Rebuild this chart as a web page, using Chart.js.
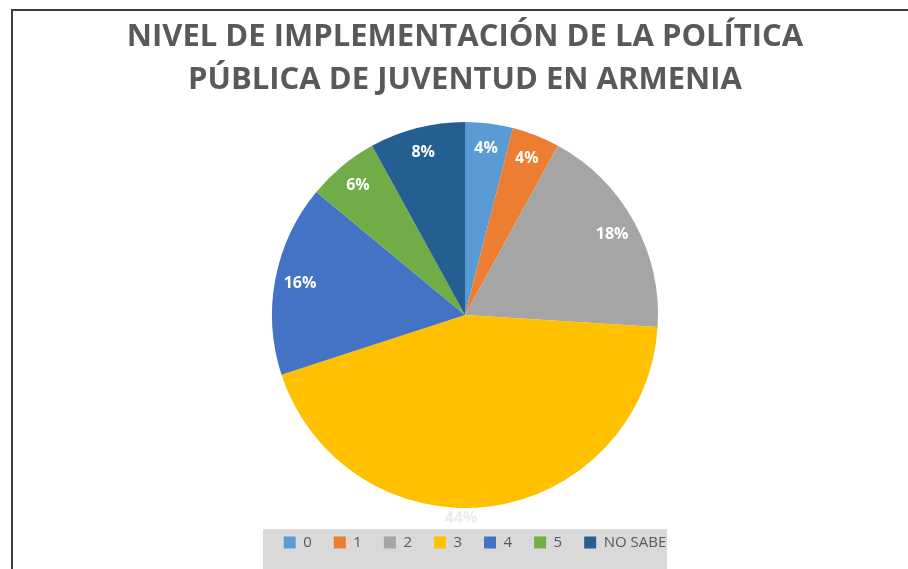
<!DOCTYPE html>
<html>
<head>
<meta charset="utf-8">
<script src="https://cdn.jsdelivr.net/npm/chart.js@4.4.1/dist/chart.umd.min.js"></script>
<style>
    html, body { margin: 0; padding: 0; background: #fff; }
    #wrap { position: relative; width: 908px; height: 569px; overflow: hidden; }
    #frame {
        position: absolute; left: 11px; top: 9px; width: 900px; height: 570px;
        border-top: 2px solid #3c3c3c; border-left: 2px solid #3c3c3c;
        pointer-events: none;
    }
</style>
</head>
<body>
<div id="wrap">
    <canvas id="pieChart" width="908" height="569"></canvas>
    <div id="frame"></div>
</div>
<script>
    // Survey answers: implementation level 0-5 plus "don't know"
    const categories = ['0', '1', '2', '3', '4', '5', 'NO SABE'];
    const percentages = [4, 4, 18, 44, 16, 6, 8];
    const sliceColors = ['#5B9BD5', '#ED7D31', '#A5A5A5', '#FFC000', '#4472C4', '#70AD47', '#255E91'];
    const titleLines = ['NIVEL DE IMPLEMENTACIÓN DE LA POLÍTICA', 'PÚBLICA DE JUVENTUD EN ARMENIA'];

    // grey strip behind the legend; legend items sit a bit right of the pie axis
    const legendBackdrop = {
        id: 'legendBackdrop',
        afterLayout(chart) {
            chart.legend.left += 10;
            chart.legend.right += 10;
        },
        beforeDraw(chart) {
            const ctx = chart.ctx;
            ctx.save();
            ctx.fillStyle = '#d9d9d9';
            ctx.fillRect(263, 529, 404, 45);
            ctx.restore();
        }
    };

    // percentage labels on each slice
    const sliceLabels = {
        id: 'sliceLabels',
        afterDatasetsDraw(chart) {
            const ctx = chart.ctx;
            const meta = chart.getDatasetMeta(0);
            ctx.save();
            ctx.font = 'bold 16px "Open Sans"';
            ctx.textAlign = 'center';
            ctx.textBaseline = 'middle';
            meta.data.forEach(function (arc, i) {
                const p = arc.getProps(['x', 'y', 'startAngle', 'endAngle', 'outerRadius'], true);
                const text = percentages[i] + '%';
                if (percentages[i] > 40) {
                    // biggest slice: label sits just under the pie, white on white
                    ctx.fillStyle = '#ececec';
                    ctx.fillText(text, p.x - 4, p.y + p.outerRadius + 10);
                    return;
                }
                const mid = (p.startAngle + p.endAngle) / 2;
                const r = p.outerRadius * 0.87;
                ctx.fillStyle = '#ffffff';
                ctx.fillText(text, p.x + Math.cos(mid) * r, p.y + Math.sin(mid) * r);
            });
            ctx.restore();
        }
    };

    new Chart(document.getElementById('pieChart'), {
        type: 'pie',
        data: {
            labels: categories,
            datasets: [{
                data: percentages,
                backgroundColor: sliceColors,
                borderWidth: 0,
                radius: 193
            }]
        },
        options: {
            responsive: false,
            animation: false,
            layout: { padding: { left: 22, right: 0, top: 0, bottom: 9 } },
            plugins: {
                title: {
                    display: true,
                    text: titleLines,
                    color: '#595959',
                    font: { family: 'Open Sans', size: 31, weight: 'bold', lineHeight: '43px' },
                    padding: { top: 16, bottom: 15 }
                },
                legend: {
                    position: 'bottom',
                    labels: {
                        color: '#595959',
                        font: { family: 'Open Sans', size: 15 },
                        boxWidth: 12,
                        boxHeight: 12,
                        padding: 22
                    }
                },
                tooltip: { enabled: false }
            }
        },
        plugins: [legendBackdrop, sliceLabels]
    });
</script>
</body>
</html>
